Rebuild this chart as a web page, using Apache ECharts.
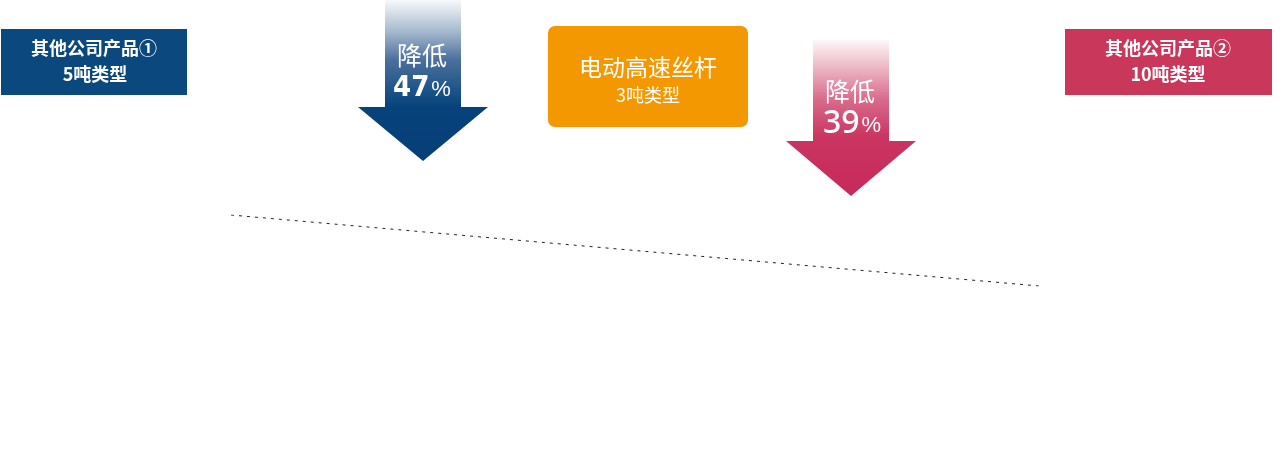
<!DOCTYPE html>
<html><head><meta charset="utf-8">
<script src="https://cdn.jsdelivr.net/npm/echarts@6/dist/echarts.min.js"></script>
<style>html,body{margin:0;padding:0;background:#fff}#c{width:1280px;height:465px}</style>
</head><body><div id="c"></div>
<script>
// data
const products = ['其他公司产品①', '电动高速丝杆', '其他公司产品②'];
const tonnage = ['5吨类型', '3吨类型', '10吨类型'];
const reductionLabel = '降低';
const reductions = [47, 39];
const trendX = ['start', 'end'];
const trendY = [100, 61];

const FONT = '"Noto Sans CJK SC", "Noto Sans", sans-serif';
const chart = echarts.init(document.getElementById('c'), null, {renderer: 'canvas'});

function grad(stops) {
  return new echarts.graphic.LinearGradient(0, 0, 0, 1, stops.map(s => ({offset: s[0], color: s[1]})));
}
function arrow(cx, top, headTop, tip, shaftHalf, headHalf, stops) {
  return {
    type: 'polygon', silent: true,
    shape: {points: [
      [cx - shaftHalf, top], [cx + shaftHalf, top], [cx + shaftHalf, headTop],
      [cx + headHalf, headTop], [cx, tip], [cx - headHalf, headTop], [cx - shaftHalf, headTop]
    ]},
    style: {fill: grad(stops)}
  };
}
function txt(x, y, text, size, weight) {
  return {type: 'text', silent: true, x: x, y: y,
    style: {text: text, fill: '#fff', font: (weight || 'normal') + ' ' + size + 'px ' + FONT,
      align: 'center', verticalAlign: 'middle'}};
}
function pct(x, y, v, numFont, numSize, numWeight) {
  return {type: 'text', silent: true, x: x, y: y,
    style: {text: '{n|' + v + '}{p|%}', align: 'center', verticalAlign: 'middle',
      rich: {
        n: {fill: '#fff', fontSize: numSize, fontWeight: numWeight, fontFamily: numFont, padding: [0, 2, 0, 0]},
        p: {fill: '#fff', fontSize: 22, fontWeight: 'normal', fontFamily: '"Liberation Sans", sans-serif', padding: [3, 0, 0, 0]}
      }}};
}

const graphics = [
  // box 1
  {type: 'rect', silent: true, shape: {x: 1, y: 29, width: 186, height: 66}, style: {fill: '#0b487e'}},
  txt(94, 48, products[0], 18, 'bold'),
  txt(95, 74, tonnage[0], 18, 'bold'),
  // box 2
  {type: 'rect', silent: true, shape: {x: 1065, y: 29, width: 207, height: 66}, style: {fill: '#c9375a'}},
  txt(1168, 48, products[2], 18, 'bold'),
  txt(1168, 74, tonnage[2], 18, 'bold'),
  // orange box
  {type: 'rect', silent: true, shape: {x: 548, y: 26, width: 200, height: 101, r: 7}, style: {fill: '#f39800'}},
  txt(648, 67, products[1], 23, 'normal'),
  txt(648, 95, tonnage[1], 18, 'normal'),
  // arrow 1
  arrow(423, 0, 107, 161, 38, 65, [[0, '#f7f9fb'], [0.19, '#a9bbd0'], [0.37, '#4c709c'], [0.6, '#124e84'], [0.665, '#08427a'], [1, '#063f77']]),
  txt(422, 55, reductionLabel, 25, 'normal'),
  pct(422, 88, reductions[0], '"DejaVu Sans Condensed", sans-serif', 29, 'bold'),
  // arrow 2
  arrow(851, 40, 141, 196, 38, 65, [[0, '#fdf7f8'], [0.19, '#ebb3c1'], [0.38, '#d96b8b'], [0.62, '#ca3562'], [1, '#c7295a']]),
  txt(850, 91, reductionLabel, 25, 'normal'),
  pct(852, 124, reductions[1], '"Noto Sans", sans-serif', 32, '500')
];

chart.setOption({
  animation: false,
  backgroundColor: '#fff',
  grid: {left: 231, right: 241, top: 215, bottom: 179},
  xAxis: {type: 'category', data: trendX, boundaryGap: false, show: false},
  yAxis: {type: 'value', min: Math.min(...trendY), max: Math.max(...trendY), show: false},
  series: [{
    type: 'line', data: trendY, symbol: 'none', silent: true,
    lineStyle: {color: '#222', width: 1, type: [3, 5]}
  }],
  graphic: graphics
});
</script></body></html>
